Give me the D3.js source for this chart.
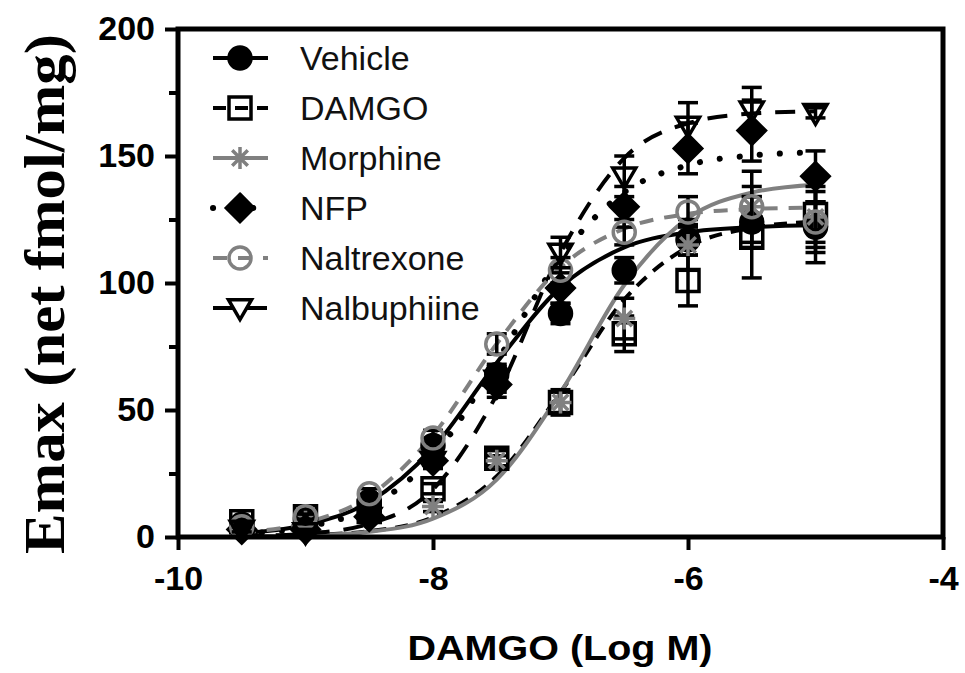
<!DOCTYPE html>
<html>
<head>
<meta charset="utf-8">
<script src="https://cdn.jsdelivr.net/npm/d3@7"></script>
<style>
  body { margin: 0; background: #fff; }
  .tick text { font-family: 'Liberation Sans', Arial, sans-serif; font-weight: bold; font-size: 34px; fill: #000; }
  .legend text { font-family: 'Liberation Sans', Arial, sans-serif; font-size: 34px; fill: #111; }
</style>
</head>
<body>
<svg width="965" height="673"></svg>
<script>
// log concentration of DAMGO
const logDose = [-9.5, -9, -8.5, -8, -7.5, -7, -6.5, -6, -5.5, -5]

// measured Emax (net fmol/mg)
const vehicle    = [5, 7, 14, 36, 64, 88, 105, 117, 124, 122]
const damgo      = [6, 8, 10, 19, 31, 53, 80, 101, 118, 127]
const morphine   = [4, 6, 8, 12, 30, 53, 86, 115, 130, 126]
const nfp        = [3, 3, 8, 30, 60, 98, 130, 153, 160, 142]
const naltrexone = [4, 8, 17, 39, 76, 105, 120, 128, 130, 124]
const nalbuphine = [3, 2, 8, 30, 62, 112, 142, 162, 168, 167]

// SEM
const vehicleErr    = [1, 1, 2, 3, 4, 4, 5, 6, 10, 14]
const damgoErr      = [1, 1, 2, 2, 3, 4, 7, 10, 16, 15]
const morphineErr   = [1, 1, 1, 2, 2, 5, 8, 10, 14, 12]
const nfpErr        = [1, 1, 2, 3, 5, 6, 8, 10, 12, 10]
const naltrexoneErr = [1, 1, 2, 3, 4, 5, 5, 6, 8, 8]
const nalbuphineErr = [1, 1, 2, 3, 5, 6, 8, 9, 9, 2]

// fitted curves at the same doses
const vehicleFit    = [1.5, 4.7, 13.8, 35.0, 68.6, 98.3, 114.0, 120.0, 122.0, 122.7]
const damgoFit      = [0.2, 0.7, 2.3, 7.8, 23.9, 57.0, 93.5, 114.2, 121.7, 124.1]
const morphineFit   = [0.2, 0.6, 2.1, 7.2, 22.6, 56.9, 99.2, 125.5, 135.6, 138.7]
const nfpFit        = [1.3, 3.9, 11.7, 31.7, 69.0, 110.1, 135.7, 146.4, 150.2, 151.4]
const naltrexoneFit = [1.8, 5.6, 16.1, 40.1, 76.1, 106.2, 121.4, 127.2, 129.1, 129.7]
const nalbuphineFit = [0.3, 1.3, 5.2, 18.8, 56.0, 111.9, 149.2, 162.9, 166.7, 167.6]

const names = ['Vehicle', 'DAMGO', 'Morphine', 'NFP', 'Naltrexone', 'Nalbuphiine']
const yTicks = [0, 50, 100, 150, 200]
const yMinorTicks = [25, 75, 125, 175]
const xTicks = [-10, -8, -6, -4]

const gray = '#808080'
const series = [
  { name: names[0], y: vehicle, err: vehicleErr, fit: vehicleFit, shape: 'circle', fill: '#000', stroke: '#000', line: '#000', dash: null },
  { name: names[1], y: damgo, err: damgoErr, fit: damgoFit, shape: 'square', fill: 'none', stroke: '#000', line: '#000', dash: '13,9' },
  { name: names[2], y: morphine, err: morphineErr, fit: morphineFit, shape: 'asterisk', fill: 'none', stroke: gray, line: gray, dash: null },
  { name: names[3], y: nfp, err: nfpErr, fit: nfpFit, shape: 'diamond', fill: '#000', stroke: '#000', line: '#000', dash: '0.1,20', dot: true },
  { name: names[4], y: naltrexone, err: naltrexoneErr, fit: naltrexoneFit, shape: 'circle', fill: 'none', stroke: gray, line: gray, dash: '14,11' },
  { name: names[5], y: nalbuphine, err: nalbuphineErr, fit: nalbuphineFit, shape: 'triangle', fill: 'none', stroke: '#000', line: '#000', dash: '20,14' }
]

const svg = d3.select('svg')
const x = d3.scaleLinear().domain([-10, -4]).range([178, 943])
const y = d3.scaleLinear().domain([0, 200]).range([537, 29])

const markerPath = (shape, s) => {
  const p = d3.path()
  if (shape === 'circle') {
    p.arc(0, 0, s / 2, 0, 2 * Math.PI)
  } else if (shape === 'square') {
    p.rect(-s / 2, -s / 2, s, s)
  } else if (shape === 'diamond') {
    const h = s * 0.62
    p.moveTo(0, -h); p.lineTo(h, 0); p.lineTo(0, h); p.lineTo(-h, 0); p.closePath()
  } else if (shape === 'triangle') {
    const h = s / 2
    p.moveTo(-h * 1.05, -h * 0.75); p.lineTo(h * 1.05, -h * 0.75); p.lineTo(0, h * 1.05); p.closePath()
  } else if (shape === 'asterisk') {
    const r = s / 2
    for (let k = 0; k < 4; k++) {
      const a = k * Math.PI / 4
      p.moveTo(-r * Math.cos(a), -r * Math.sin(a))
      p.lineTo(r * Math.cos(a), r * Math.sin(a))
    }
  }
  return p.toString()
}

const drawMarker = (g, d, cx, cy) => {
  g.append('path')
    .attr('d', markerPath(d.shape, 22))
    .attr('transform', `translate(${cx},${cy})`)
    .attr('fill', d.fill)
    .attr('stroke', d.stroke)
    .attr('stroke-width', 3.5)
}

const styleLine = (sel, d) => {
  sel.attr('fill', 'none')
    .attr('stroke', d.line)
    .attr('stroke-width', d.dot ? 6 : 4)
    .attr('stroke-linecap', d.dot ? 'round' : 'butt')
  if (d.dash) sel.attr('stroke-dasharray', d.dash)
}

// fitted curves
const line = d3.line()
  .x((v, i) => x(logDose[i]))
  .y(v => y(v))
  .curve(d3.curveMonotoneX)

const plot = svg.append('g')
series.forEach(d => {
  plot.append('path').datum(d.fit).attr('d', line).call(styleLine, d)
})

// error bars and points
series.forEach(d => {
  const g = plot.append('g')
  d.y.forEach((v, i) => {
    const cx = x(logDose[i])
    const lo = y(v - d.err[i]), hi = y(v + d.err[i])
    const eb = g.append('g').attr('stroke', '#000').attr('stroke-width', 3.5)
    eb.append('line').attr('x1', cx).attr('x2', cx).attr('y1', lo).attr('y2', hi)
    eb.append('line').attr('x1', cx - 10).attr('x2', cx + 10).attr('y1', lo).attr('y2', lo)
    eb.append('line').attr('x1', cx - 10).attr('x2', cx + 10).attr('y1', hi).attr('y2', hi)
  })
  d.y.forEach((v, i) => drawMarker(g, d, x(logDose[i]), y(v)))
})

// axes
const yAxis = svg.append('g')
  .attr('transform', `translate(${x(-10)},0)`)
  .call(d3.axisLeft(y).tickValues(yTicks).tickSize(13).tickPadding(10))
yAxis.select('.domain').remove()
yAxis.selectAll('.tick line').attr('stroke', '#000').attr('stroke-width', 4)

const yMinor = svg.append('g')
  .attr('transform', `translate(${x(-10)},0)`)
  .call(d3.axisLeft(y).tickValues(yMinorTicks).tickSize(9).tickFormat(''))
yMinor.select('.domain').remove()
yMinor.selectAll('.tick line').attr('stroke', '#000').attr('stroke-width', 4)

const xAxis = svg.append('g')
  .attr('transform', `translate(0,${y(0)})`)
  .call(d3.axisBottom(x).tickValues(xTicks).tickSize(13).tickPadding(16).tickFormat(d => String(d)))
xAxis.select('.domain').remove()
xAxis.selectAll('.tick line').attr('stroke', '#000').attr('stroke-width', 4)

// frame
svg.append('rect')
  .attr('x', x(-10)).attr('y', y(200))
  .attr('width', x(-4) - x(-10)).attr('height', y(0) - y(200))
  .attr('fill', 'none').attr('stroke', '#000').attr('stroke-width', 5)

// titles
svg.append('text')
  .attr('transform', 'translate(64,294) rotate(-90)')
  .attr('text-anchor', 'middle')
  .attr('font-family', "'Liberation Serif', 'Times New Roman', serif")
  .attr('font-weight', 'bold')
  .attr('font-size', 58)
  .attr('textLength', 520)
  .attr('lengthAdjust', 'spacingAndGlyphs')
  .text('Emax (net fmol/mg)')

svg.append('text')
  .attr('x', 560).attr('y', 660)
  .attr('text-anchor', 'middle')
  .attr('font-family', "'Liberation Sans', Arial, sans-serif")
  .attr('font-weight', 'bold')
  .attr('font-size', 35)
  .attr('textLength', 305)
  .attr('lengthAdjust', 'spacingAndGlyphs')
  .text('DAMGO (Log M)')

// legend
const legend = svg.append('g').attr('class', 'legend')
series.forEach((d, i) => {
  const ly = 58 + i * 50
  const g = legend.append('g')
  g.append('line')
    .attr('x1', 213).attr('x2', 268).attr('y1', ly).attr('y2', ly)
    .call(styleLine, d)
  drawMarker(g, d, 240, ly)
  g.append('text').attr('x', 300).attr('y', ly + 12).text(d.name)
})
</script>
</body>
</html>
